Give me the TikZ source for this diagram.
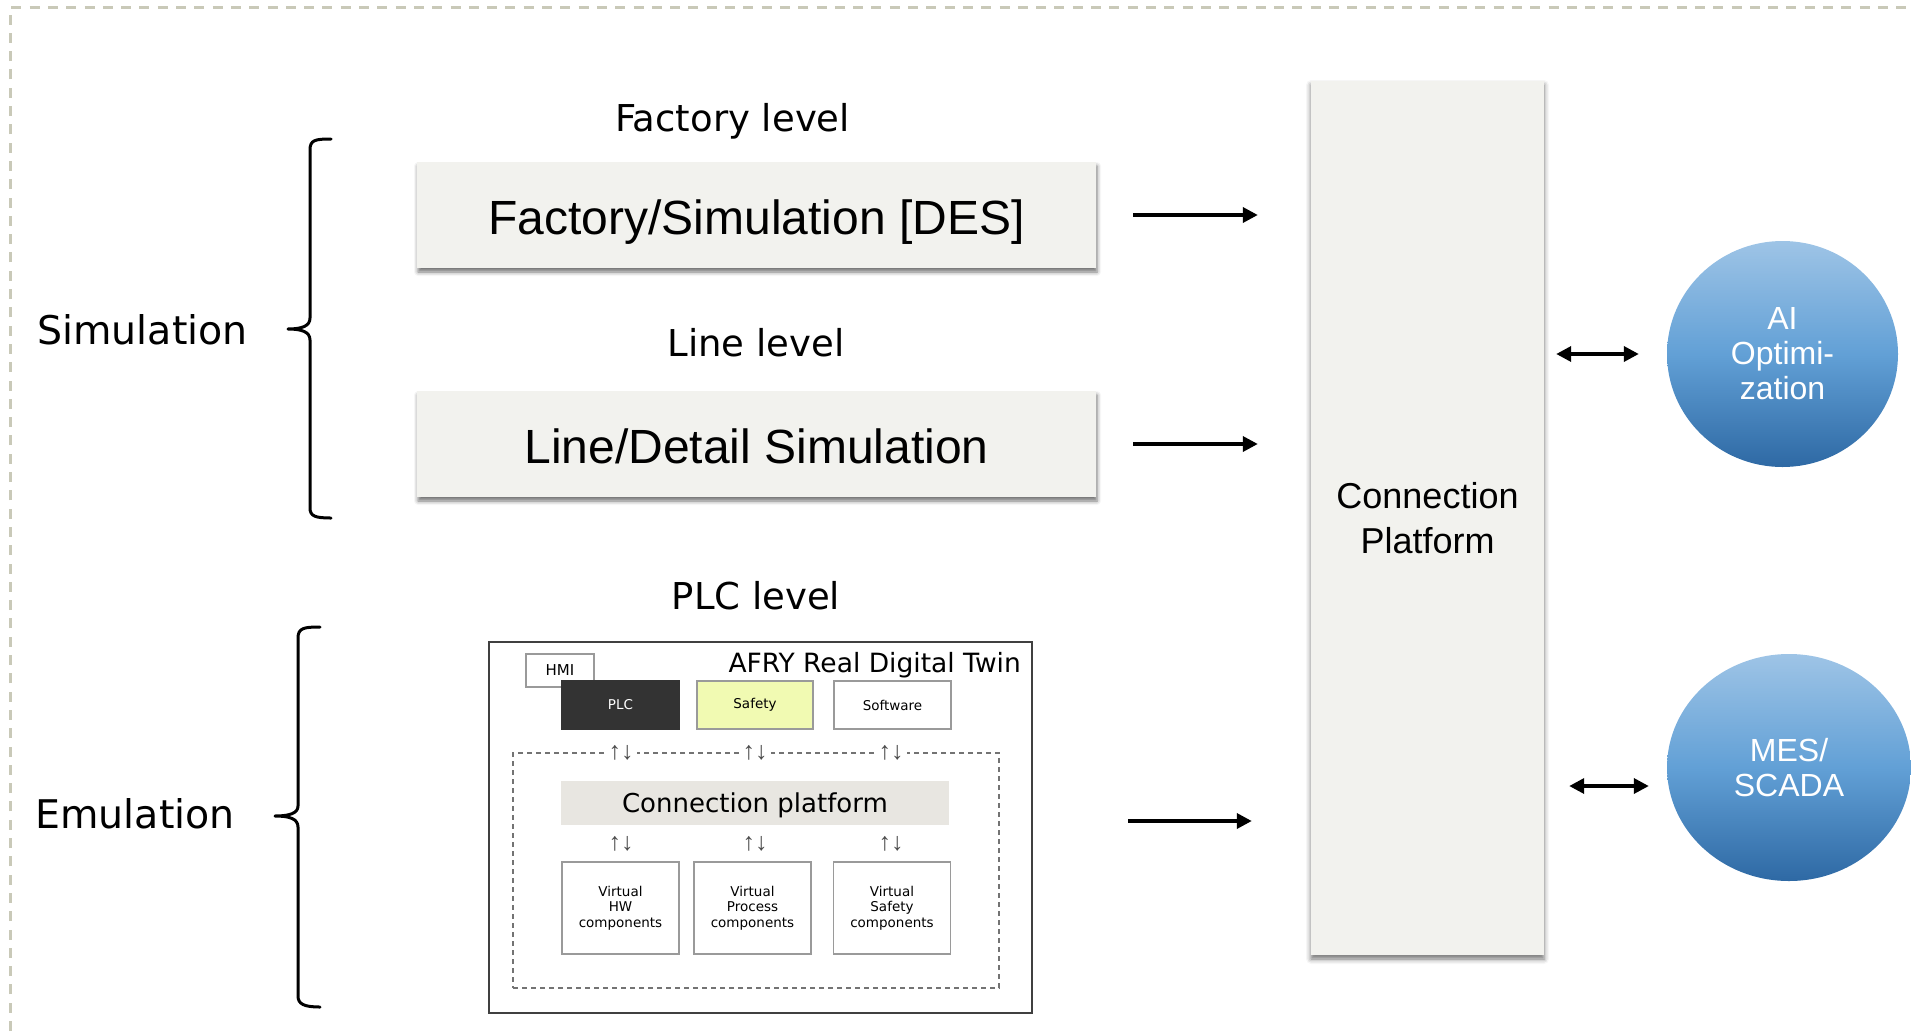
\documentclass[tikz,border=0pt]{standalone}
\usepackage{fontspec}
\setmainfont{Liberation Sans}
\newfontfamily\dv{DejaVu Sans}
\usetikzlibrary{arrows.meta,shapes.geometric,shadows.blur}
\definecolor{boxfill}{HTML}{F2F2EE}
\definecolor{bordergray}{HTML}{C9C9B8}
\definecolor{cpbar}{HTML}{E8E6E1}
\definecolor{safetyfill}{HTML}{F1FAB2}
\definecolor{plcfill}{HTML}{333333}
\definecolor{thinline}{HTML}{9A9A9A}
\definecolor{ctop}{HTML}{9EC4E6}
\definecolor{cmid}{HTML}{62A0D6}
\definecolor{cbot}{HTML}{2E69A4}
\begin{document}
\begin{tikzpicture}[x=1pt,y=1pt,
  simbox/.style={rectangle, fill=boxfill, minimum width=679pt, minimum height=106pt, inner sep=0pt,
    text height=38pt, text depth=0pt,
    blur shadow={shadow xshift=1pt, shadow yshift=-4pt, shadow blur radius=4pt, shadow opacity=55},
    font=\fontsize{48}{58}\selectfont},
  leveltext/.style={anchor=base, inner sep=0pt, font=\dv\fontsize{37}{44}\selectfont},
  sidetext/.style={anchor=base, inner sep=0pt, font=\dv\fontsize{39.5}{47}\selectfont},
  brace/.style={line width=3pt, line cap=round, line join=round},
  arr/.style={line width=3.5pt, -{Triangle[length=15pt,width=15pt]}},
  darr/.style={line width=3.5pt, {Triangle[length=15pt,width=15pt]}-{Triangle[length=15pt,width=15pt]}},
  bubble/.style={ellipse, inner sep=0pt, text=white, align=center, top color=ctop, bottom color=cbot, middle color=cmid,
    font=\fontsize{32}{35}\selectfont},
  smallbox/.style={rectangle, draw=thinline, line width=1.3pt, fill=white, inner sep=0pt,
    minimum width=117pt, align=center, font=\dv\fontsize{13.5}{15.3}\selectfont},
  updown/.style={inner sep=0pt, text=black!70, font=\fontsize{25}{26}\selectfont}
]
\useasboundingbox (0,0) rectangle (1911,-1031);

% outer dashed frame
\draw[bordergray, line width=3pt, dash pattern=on 10pt off 8.3pt] (10,-1031) -- (10,-7.5) -- (1911,-7.5);

% level labels
\node[leveltext] (flevel) at (732.5,-131) {Factory level};
\node[leveltext] (llevel) at (756,-356) {Line level};
\node[leveltext] (plevel) at (756,-609) {PLC level};

% simulation boxes
\node[simbox] (fac) at (756.5,-215) {Factory/Simulation [DES]};
\node[simbox] (line) at (756.5,-444) {Line/Detail Simulation};

% side labels and braces
\node[sidetext] (sim) at (142.5,-344) {Simulation};
\node[sidetext] (emu) at (135,-828) {Emulation};
\draw[brace] (331,-139) .. controls (315,-139) and (310,-140) .. (310,-150) -- (310,-318)
  .. controls (310,-326) and (302,-329) .. (288,-329)
  .. controls (302,-329) and (310,-332) .. (310,-340) -- (310,-508)
  .. controls (310,-516) and (315,-518) .. (331,-518);
\draw[brace] (320,-627) .. controls (304,-627) and (298,-628) .. (298,-638) -- (298,-806)
  .. controls (298,-813) and (290,-816) .. (275,-816)
  .. controls (290,-816) and (298,-819) .. (298,-827) -- (298,-996)
  .. controls (298,-1004) and (304,-1007) .. (320,-1007);

% AFRY real digital twin block
\node[rectangle, draw=black!75, line width=2pt, minimum width=543pt, minimum height=371pt, inner sep=0pt] (afry) at (760.5,-827.5) {};
\node[anchor=base east, inner sep=0pt, font=\dv\fontsize{26.5}{30}\selectfont] (afrytitle) at (1021,-672) {AFRY Real Digital Twin};
\node[rectangle, draw=thinline, line width=1.3pt, fill=white, minimum width=68pt, minimum height=33pt, inner sep=0pt,
  font=\dv\fontsize{15}{18}\selectfont] (hmi) at (560,-670.5) {HMI};
\node[smallbox, draw=plcfill, fill=plcfill, text=white, minimum height=48pt] (plc) at (620.5,-705) {PLC};
\node[smallbox, fill=safetyfill, minimum height=48pt, minimum width=116pt] (safety) at (755,-705) {Safety};
\node[smallbox, minimum height=48pt] (software) at (892.5,-705) {Software};

\node[rectangle, draw=black!55, line width=1.3pt, dash pattern=on 5pt off 4pt, minimum width=486pt, minimum height=235pt, inner sep=0pt] (inner) at (756,-870.5) {};
\node[rectangle, fill=cpbar, minimum width=388pt, minimum height=44pt, inner sep=0pt] (cpsmall) at (755,-803) {};
\node[anchor=base, inner sep=0pt, font=\dv\fontsize{26}{30}\selectfont] (cpsmalltext) at (755,-812) {Connection platform};

\node[smallbox, minimum height=92pt] (vhw) at (620.5,-908) {Virtual\\HW\\components};
\node[smallbox, minimum height=92pt] (vproc) at (752.5,-908) {Virtual\\Process\\components};
\node[smallbox, minimum height=92pt] (vsafe) at (892,-908) {Virtual\\Safety\\components};

\node[updown, fill=white, inner xsep=3pt] (ud1) at (621,-753) {↑↓};
\node[updown, fill=white, inner xsep=3pt] (ud2) at (755,-753) {↑↓};
\node[updown, fill=white, inner xsep=3pt] (ud3) at (891,-753) {↑↓};
\node[updown] (ud4) at (621,-844) {↑↓};
\node[updown] (ud5) at (755,-844) {↑↓};
\node[updown] (ud6) at (891,-844) {↑↓};

% connection platform
\node[rectangle, fill=boxfill, minimum width=233pt, minimum height=874pt, inner sep=0pt, align=center,
  blur shadow={shadow xshift=0pt, shadow yshift=-4pt, shadow blur radius=5pt, shadow opacity=55},
  font=\fontsize{36}{44.6}\selectfont] (cp) at (1427.5,-518) {Connection\\Platform};

% bubbles
\node[bubble, minimum width=231pt, minimum height=226pt] (ai) at (1782.5,-354) {AI\\Optimi-\\zation};
\node[bubble, minimum width=244pt, minimum height=227pt] (mes) at (1789,-767.5) {MES/\\SCADA};

% connector end points
\coordinate (plcout) at ([yshift=6.5pt]afry.east);
\coordinate (mesin) at ([yshift=-18.5pt]mes.west);

% connectors
\draw[arr, shorten <=37pt, shorten >=53pt] (fac.east) -- (cp.west |- fac.east);
\draw[arr, shorten <=37pt, shorten >=53pt] (line.east) -- (cp.west |- line.east);
\draw[arr, shorten <=95pt, shorten >=59pt] (plcout) -- (cp.west |- plcout);
\draw[darr, shorten <=12pt, shorten >=28pt] (cp.east |- ai.west) -- (ai.west);
\draw[darr, shorten <=25pt, shorten >=18pt] (cp.east |- mesin) -- (mesin);
\end{tikzpicture}
\end{document}
